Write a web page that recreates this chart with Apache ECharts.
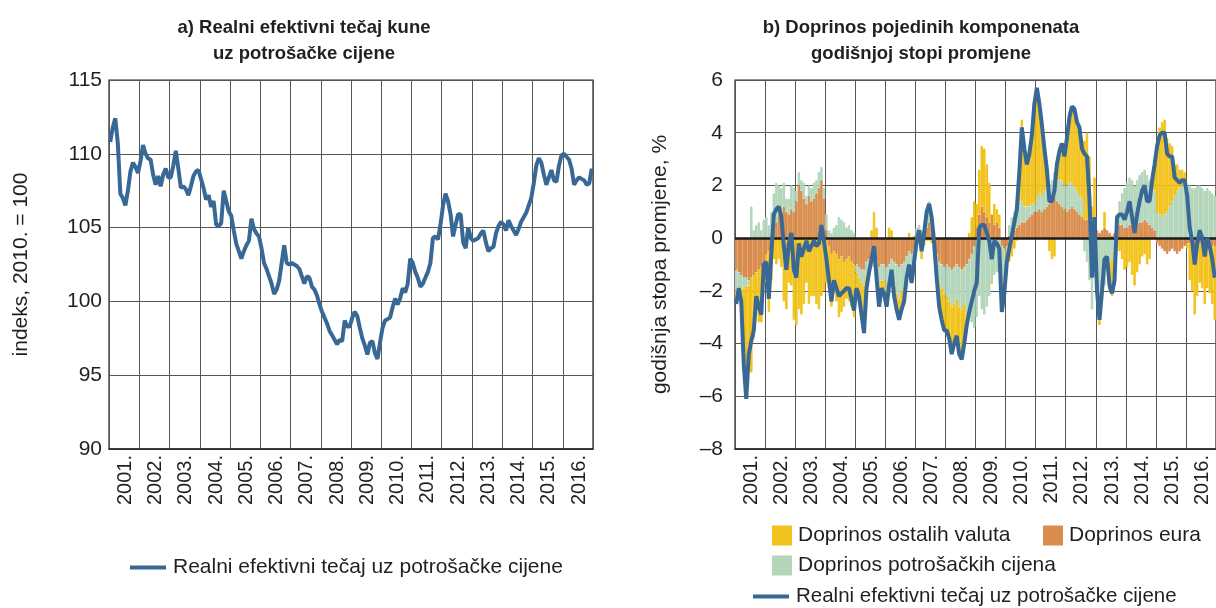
<!DOCTYPE html>
<html>
<head>
  <meta charset="UTF-8">
  <title>Realni efektivni tečaj kune</title>
  <script src="https://cdn.jsdelivr.net/npm/echarts@6/dist/echarts.min.js"></script>
  <style>
    body { margin: 0; padding: 0; background: #fff; }
    #chart { width: 1216px; height: 608px; }
  </style>
</head>
<body>
  <div id="chart"></div>
  <script>
    // years on the x axis, one bar / point per month
    var years = [2001, 2002, 2003, 2004, 2005, 2006, 2007, 2008, 2009, 2010, 2011, 2012, 2013, 2014, 2015, 2016];

    // a) real effective exchange rate index, 2010 = 100
    var reerIndex = [
      110.8, 111.8, 112.4, 110.7, 107.3, 107.0, 106.5, 107.5, 108.8, 109.4, 109.1, 108.7,
      109.5, 110.6, 110.0, 109.7, 109.6, 108.6, 107.9, 108.5, 107.8, 108.6, 109.0, 108.4,
      108.4, 109.2, 110.2, 109.0, 107.7, 107.8, 107.6, 107.2, 107.8, 108.5, 108.8, 108.9,
      108.3, 107.7, 106.9, 107.2, 106.4, 106.8, 105.2, 105.1, 105.3, 107.5, 106.8, 106.1,
      105.8, 104.8, 103.9, 103.4, 102.9, 103.4, 103.8, 104.1, 105.6, 104.9, 104.6, 104.4,
      103.6, 102.6, 102.2, 101.7, 101.2, 100.5, 100.8, 101.4, 102.6, 103.8, 102.6, 102.5,
      102.6, 102.5, 102.4, 102.2, 101.7, 101.2, 101.7, 101.6, 101.0, 100.8, 100.4, 99.8,
      99.3, 98.9, 98.5, 98.0, 97.7, 97.4, 97.1, 97.4, 97.3, 98.7, 98.3, 98.3,
      98.9, 99.3, 99.0, 98.2, 97.5, 97.0, 96.4, 97.2, 97.3, 96.5, 96.1, 97.2,
      98.2, 98.7, 98.8, 98.9, 99.6, 100.2, 99.8, 100.2, 100.9, 100.6, 101.2, 102.9,
      102.6, 102.0, 101.6, 101.0, 101.2, 101.6, 102.0, 102.6, 104.3, 104.4, 104.2, 105.2,
      106.5, 107.3, 106.8, 105.9, 104.4, 105.2, 105.9, 105.9, 104.0, 103.6, 105.0, 104.3,
      104.1, 104.2, 104.3, 104.6, 104.8, 104.0, 103.4, 103.6, 103.7, 104.6, 105.1, 105.4,
      105.2, 104.8, 105.5, 105.1, 104.8, 104.5, 104.9, 105.4, 105.7, 106.0, 106.5, 107.0,
      108.0, 109.2, 109.7, 109.4, 108.6, 107.9, 108.4, 108.9, 108.2, 108.1, 109.2, 109.9,
      110.0, 109.8, 109.6, 109.0, 107.9, 108.2, 108.4, 108.3, 108.2, 107.9, 108.0, 109.0
    ];

    // b) annual rate of change, %
    var reerChange = [
      -2.5, -1.9, -2.4, -4.8, -6.1, -4.4, -3.9, -3.5, -2.2, -2.6, -2.9, -1.0,
      -0.9, -2.3, -0.6, 0.9, 1.1, 1.2, 0.8, -0.3, -1.2, -0.2, 0.2, -1.2,
      -1.5, -0.2, -0.7, -0.4, -0.1, -0.5, -0.3, -0.1, -0.3, -0.2, 0.5, -0.1,
      -0.8, -1.6, -2.4, -1.6, -1.9, -2.2, -2.1, -2.0, -1.9, -1.9, -2.3, -2.75,
      -1.9, -2.2, -2.9, -3.6, -1.9, -1.3, -0.8, -0.3, -1.5, -2.6, -1.9, -2.1,
      -2.6, -1.8, -1.2, -2.2, -2.7, -3.1, -2.7, -2.4, -1.5, -1.0, -1.7, -0.9,
      -0.1, 0.3, -0.5, 0.2, 1.0, 1.3, 0.8, -0.2, -1.5, -2.6, -3.1, -3.5,
      -3.5, -3.8, -4.4, -4.0, -3.7, -4.4, -4.6, -4.0, -3.3, -2.8, -2.4, -2.0,
      -1.7, 0.4, 0.5, 0.5, 0.2, -0.1, -0.8, -0.1, -0.2, -0.4, -2.8, -2.1,
      -0.9, -0.4, 0.1, 0.6, 1.1, 2.5, 4.2, 3.4, 2.8, 3.2, 3.9, 5.1,
      5.7, 5.1, 4.3, 3.4, 2.6, 1.4, 1.4, 1.8, 2.8, 3.3, 3.6, 3.1,
      3.8, 4.6, 5.0, 4.9, 4.4, 4.2, 3.4, 3.2, 3.1, 1.5, -1.5, 0.8,
      -2.0, -3.1, -2.0, -0.8, -0.7, -1.8, -2.1, -1.6, 0.8, 0.9, 0.9, 0.7,
      1.0, 1.4, 0.8, 0.2, 0.9, 1.4, 1.8, 2.0, 1.4, 1.4, 2.2, 2.8,
      3.5, 3.9, 4.0, 4.0, 3.2, 3.1, 3.1, 2.3, 2.2, 2.1, 2.2, 2.2,
      1.6, 0.4, -0.1, -1.0, -0.2, 0.3, 0.0, -0.7, 0.0, -0.3, -0.8, -1.5
    ];

    var contribEuro = [
      -1.2, -1.3, -1.4, -1.5, -1.5, -1.6, -1.5, -1.4, -1.3, -1.2, -1.1, -1.0,
      -0.6, -0.5, -0.3, 0.3, 0.6, 0.9, 1.0, 1.2, 1.0, 0.9, 1.1, 1.0,
      1.4, 2.0, 1.8, 1.5, 1.3, 1.6, 1.4, 1.5, 1.7, 1.9, 2.2, 1.5,
      0.3, -0.3, -0.6, -0.5, -0.6, -0.8, -0.7, -0.9, -0.8, -0.7, -0.9, -1.0,
      -1.0, -1.1, -1.2, -1.2, -0.9, -0.8, -0.7, -0.6, -0.9, -1.1, -1.0, -1.0,
      -1.1, -1.0, -0.8, -0.9, -1.0, -1.1, -1.0, -0.9, -0.7, -0.5, -0.6, -0.4,
      -0.3, -0.1, -0.3, 0.1, 0.4, 0.6, 0.4, -0.2, -0.6, -0.9, -1.0, -1.1,
      -1.0, -1.1, -1.2, -1.1, -1.0, -1.1, -1.2, -1.1, -1.0, -0.8, -0.6, -0.3,
      0.4, 0.9, 1.2, 1.0, 0.8, 0.6, 0.9, 0.5, 0.6, 0.4, -0.3, -0.4,
      -0.3, 0.1, 0.2, 0.3, 0.4, 0.5, 0.6, 0.6, 0.7, 0.8, 0.9, 1.0,
      1.0, 1.1, 1.0, 1.1, 1.2, 1.3, 1.5, 1.6, 1.4, 1.3, 1.2, 1.1,
      1.0, 1.1, 1.2, 1.1, 1.0, 0.9, 0.8, 0.7, 0.7, 0.5, -0.3, 0.3,
      0.3, 0.2, 0.3, 0.4, 0.3, 0.2, 0.1, 0.2, 0.4, 0.5, 0.5, 0.4,
      0.4, 0.5, 0.5, 0.4, 0.5, 0.6, 0.6, 0.7, 0.6, 0.5, 0.4, 0.3,
      -0.2, -0.3, -0.4, -0.5, -0.6, -0.5, -0.4, -0.5, -0.6, -0.5, -0.4, -0.3,
      -0.2, -0.2, -0.3, -0.3, -0.2, -0.2, -0.3, -0.3, -0.2, -0.2, -0.3, -0.3
    ];

    var contribPrices = [
      -0.8, -0.6, -0.5, -0.4, -0.3, -0.2, 1.2, 0.3, 0.5, 0.6, 0.3, 0.7,
      0.8, 0.5, 1.0, 1.4, 1.5, 1.1, 0.9, 0.9, 0.5, 0.6, 0.9, 0.9,
      0.4, 0.5, 0.4, 0.6, 0.3, 0.4, 0.5, 0.6, 0.5, 0.6, 0.5, 0.4,
      0.6, 0.3, 0.2, 0.4, 0.5, 0.8, 0.7, 0.6, 0.4, 0.5, 0.3, 0.2,
      -0.3, -0.4, -0.5, -0.6, -0.5, -0.4, -0.4, -0.5, -0.6, -0.7, -0.6, -0.6,
      -1.0, -1.2, -0.7, -0.9, -1.1, -1.2, -1.0, -1.0, -0.8, -0.7, -0.9, -0.6,
      0.4, 0.5, 0.3, 0.4, 0.7, 0.8, 0.6, 0.3, -0.4, -0.8, -0.9, -1.0,
      -1.2, -1.3, -1.4, -1.4, -1.3, -1.5, -1.5, -1.4, -2.0, -2.2, -2.6, -3.1,
      -3.0, -2.2, -2.7, -2.9, -2.6, -2.2, -1.7, -1.4, -1.3, -1.3, -1.1, -1.2,
      -0.2, 0.4, 0.6, 0.7, 0.8, 0.9, 0.8, 0.6, 0.5, 0.4, 0.4, 0.3,
      0.5, 0.6, 0.6, 0.7, 0.8, 0.6, 0.7, 0.9, 0.8, 0.9, 1.0, 0.9,
      1.0, 1.0, 0.9, 0.8, 0.8, 0.7, 0.7, -0.5, -0.9, -1.6, -2.4, -1.5,
      -1.8, -2.0, -1.6, -1.8, -0.8, -0.9, -0.8, -0.5, 0.5, 0.9, 1.2, 1.5,
      1.7, 1.8, 1.7, 1.6, 1.7, 1.8, 1.9, 1.9, 1.8, 1.7, 1.6, 1.5,
      1.0, 0.9, 0.8, 0.9, 1.0, 1.2, 1.4, 1.6, 1.8, 1.9, 2.0, 2.1,
      2.0, 2.0, 1.9, 1.9, 2.0, 2.0, 1.9, 1.8, 1.9, 1.8, 1.7, 1.6
    ];

    var contribOther = [
      -0.5, 0.0, -0.5, -2.9, -4.3, -2.6, -3.6, -2.4, -1.4, -2.0, -2.1, -0.7,
      -1.1, -2.3, -1.3, -0.8, -1.0, -0.8, -1.1, -2.4, -2.7, -1.7, -1.8, -3.1,
      -3.3, -2.7, -2.9, -2.5, -1.7, -2.5, -2.2, -2.2, -2.5, -2.7, -2.2, -2.0,
      -1.7, -1.6, -2.0, -1.5, -1.8, -2.2, -2.1, -1.7, -1.5, -1.7, -1.7, -2.0,
      -0.6, -0.7, -1.2, -1.8, -0.5, -0.1, 0.3, 1.0, 0.4, -0.8, -0.3, -0.5,
      -0.5, 0.4, 0.3, -0.4, -0.6, -0.8, -0.7, -0.5, 0.0, 0.2, -0.2, 0.1,
      -0.2, -0.1, -0.5, -0.3, -0.1, -0.1, -0.2, -0.3, -0.5, -0.9, -1.2, -1.4,
      -1.3, -1.4, -1.8, -1.5, -1.4, -1.8, -1.9, -1.5, -0.3, 0.2, 0.8, 1.4,
      0.9, 1.7, 2.3, 2.4, 2.0, 1.5, 0.0, 0.8, 0.5, 0.5, -1.4, -0.5,
      -0.4, -0.9, -0.7, -0.4, -0.1, 1.1, 3.1, 2.2, 1.6, 2.0, 2.6, 3.8,
      4.2, 3.4, 2.7, 1.6, 0.6, -0.5, -0.8, -0.7, 0.6, 1.1, 1.4, 1.1,
      1.8, 2.5, 2.9, 3.0, 2.6, 2.6, 1.9, 3.0, 3.3, 2.6, 1.2, 2.0,
      -0.5, -1.3, -0.7, 0.6, -0.2, -1.1, -1.4, -1.3, -0.1, -0.5, -0.8, -1.2,
      -1.1, -0.9, -1.4, -1.8, -1.3, -1.0, -0.7, -0.6, -1.0, -0.8, 0.2, 1.0,
      2.7, 3.3, 3.6, 3.6, 2.8, 2.4, 2.1, 1.2, 1.0, 0.7, 0.6, 0.4,
      -0.2, -1.4, -1.7, -2.6, -2.0, -1.5, -1.6, -2.2, -1.7, -1.9, -2.2, -2.8
    ];

    var months = [];
    years.forEach(function (y) {
      for (var m = 1; m <= 12; m++) {
        months.push(y + '.' + (m < 10 ? '0' + m : m));
      }
    });

    var FONT = "'Liberation Sans', Arial, sans-serif";
    var TXT = '#231f20';
    var BLUE = '#386896';
    var YELLOW = '#f2c31c';
    var ORANGE = '#d98c4c';
    var GREEN = '#b3d6bb';
    var LINE_NAME = 'Realni efektivni tečaj uz potrošačke cijene';

    function xAxisFor(grid) {
      return {
        type: 'category',
        gridIndex: grid,
        data: months,
        boundaryGap: true,
        axisLine: { onZero: false, lineStyle: { color: '#222', width: 1.5 } },
        axisTick: { show: false },
        axisLabel: {
          interval: function (i) { return i % 12 === 6; },
          rotate: 90,
          margin: 6,
          formatter: function (v) { return v.slice(0, 5); },
          fontFamily: FONT, fontSize: 20, color: TXT
        },
        splitLine: {
          show: true,
          interval: function (i) { return i % 12 === 0; },
          lineStyle: { color: '#555', width: 1 }
        }
      };
    }

    function legendFor(name, left, top, isLine, size) {
      return {
        data: [name], left: left, top: top, icon: 'rect',
        itemWidth: isLine ? 36 : 18, itemHeight: isLine ? 4 : 18, itemGap: 0,
        selectedMode: false,
        textStyle: { fontFamily: FONT, fontSize: size, color: TXT, padding: [0, 0, 0, 2] }
      };
    }

    function barStyle(color) {
      return { color: color, borderColor: color, borderWidth: 1 };
    }

    var chart = echarts.init(document.getElementById('chart'), null, { renderer: 'canvas' });

    chart.setOption({
      animation: false,
      backgroundColor: '#fff',
      textStyle: { fontFamily: FONT, color: TXT },
      title: [
        {
          text: 'a) Realni efektivni tečaj kune\nuz potrošačke cijene',
          left: 299, top: 10, textAlign: 'center',
          textStyle: { fontFamily: FONT, fontSize: 18.5, fontWeight: 'bold', lineHeight: 26, color: TXT }
        },
        {
          text: 'b) Doprinos pojedinih komponenata\ngodišnjoj stopi promjene',
          left: 916, top: 10, textAlign: 'center',
          textStyle: { fontFamily: FONT, fontSize: 18.5, fontWeight: 'bold', lineHeight: 26, color: TXT }
        }
      ],
      legend: [
        legendFor(LINE_NAME, 125, 552, true, 21),
        legendFor('Doprinos ostalih valuta', 767, 520, false, 21),
        legendFor('Doprinos eura', 1038, 520, false, 21),
        legendFor('Doprinos potrošačkih cijena', 767, 550, false, 21),
        legendFor(LINE_NAME, 748, 581, true, 20.5)
      ],
      grid: [
        { left: 109, top: 80, width: 484, height: 369, show: true, borderColor: '#222', borderWidth: 1.2 },
        { left: 735, top: 80, width: 484, height: 369, show: true, borderColor: '#222', borderWidth: 1.2 }
      ],
      xAxis: [xAxisFor(0), xAxisFor(1)],
      yAxis: [
        {
          type: 'value', gridIndex: 0, min: 90, max: 115, interval: 5,
          name: 'indeks, 2010. = 100', nameLocation: 'middle', nameGap: 77,
          nameTextStyle: { fontFamily: FONT, fontSize: 21, color: TXT },
          axisLine: { show: false }, axisTick: { show: false },
          axisLabel: { fontFamily: FONT, fontSize: 21, color: TXT, margin: 7 },
          splitLine: { lineStyle: { color: '#555', width: 1 } }
        },
        {
          type: 'value', gridIndex: 1, min: -8, max: 6, interval: 2,
          name: 'godišnja stopa promjene, %', nameLocation: 'middle', nameGap: 64,
          nameTextStyle: { fontFamily: FONT, fontSize: 21, color: TXT },
          axisLine: { show: false }, axisTick: { show: false },
          axisLabel: {
            fontFamily: FONT, fontSize: 21, color: TXT, margin: 12,
            formatter: function (v) { return String(v).replace('-', '\u2013'); }
          },
          splitLine: { lineStyle: { color: '#555', width: 1 } }
        }
      ],
      series: [
        {
          name: LINE_NAME, type: 'line', xAxisIndex: 0, yAxisIndex: 0,
          data: reerIndex, showSymbol: false, symbol: 'none',
          lineStyle: { color: BLUE, width: 4 }, itemStyle: { color: BLUE }
        },
        {
          name: 'Doprinos eura', type: 'bar', xAxisIndex: 1, yAxisIndex: 1, stack: 'b',
          data: contribEuro, barCategoryGap: '0%', itemStyle: barStyle(ORANGE)
        },
        {
          name: 'Doprinos potrošačkih cijena', type: 'bar', xAxisIndex: 1, yAxisIndex: 1, stack: 'b',
          data: contribPrices, barCategoryGap: '0%', itemStyle: barStyle(GREEN)
        },
        {
          name: 'Doprinos ostalih valuta', type: 'bar', xAxisIndex: 1, yAxisIndex: 1, stack: 'b',
          data: contribOther, barCategoryGap: '0%', itemStyle: barStyle(YELLOW),
          markLine: {
            silent: true, symbol: 'none', label: { show: false },
            lineStyle: { color: '#1a1a1a', width: 2.5, type: 'solid' },
            data: [{ yAxis: 0 }]
          }
        },
        {
          name: LINE_NAME, type: 'line', xAxisIndex: 1, yAxisIndex: 1, z: 5,
          data: reerChange, showSymbol: false, symbol: 'none',
          lineStyle: { color: BLUE, width: 4 }, itemStyle: { color: BLUE }
        }
      ]
    });
  </script>
</body>
</html>
